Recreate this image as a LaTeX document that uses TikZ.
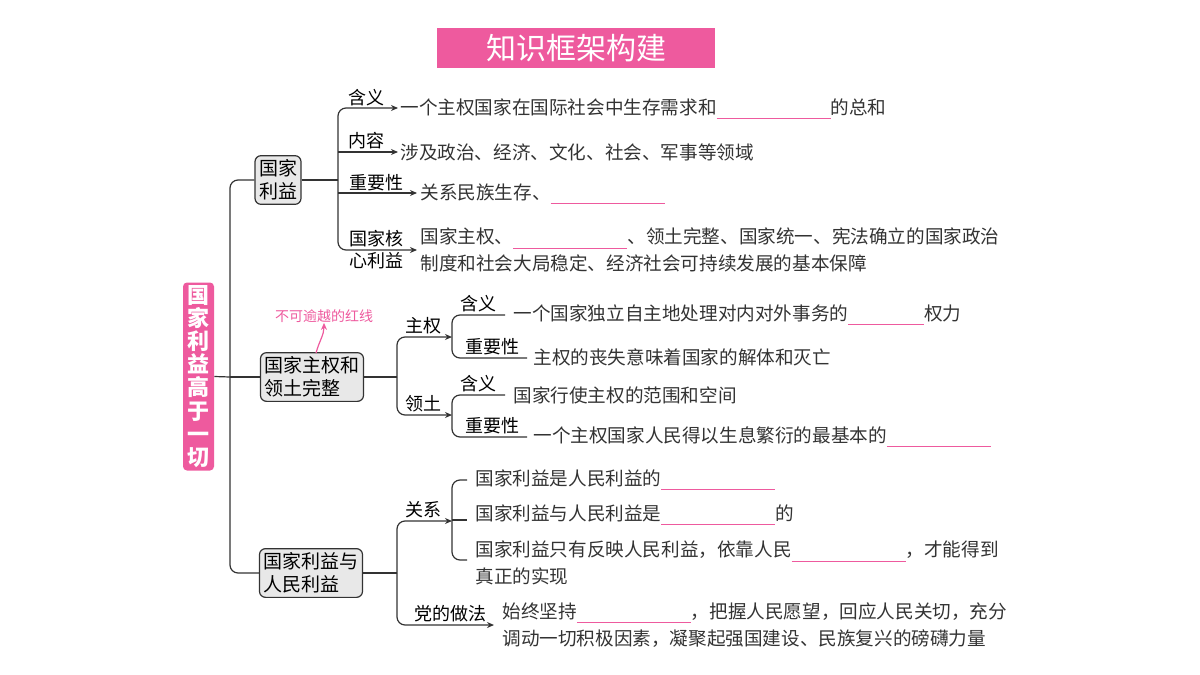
\documentclass[tikz,border=0pt]{standalone}
\usepackage{fontspec}
\setmainfont{Noto Sans CJK SC}
\usetikzlibrary{arrows.meta}
\definecolor{pk}{HTML}{EE5A9E}
\definecolor{tx}{HTML}{333333}
\newcommand{\blk}[1]{\textcolor{pk}{\rule[-2.5pt]{#1pt}{0.5pt}}}
\tikzset{
 t/.style={anchor=west,inner sep=0pt,font=\fontsize{9.3pt}{13.5pt}\selectfont,text=tx},
 lb/.style={anchor=base,inner sep=0pt,font=\fontsize{9pt}{10pt}\selectfont},
 gbox/.style={draw=tx,fill=gray!18,rounded corners=3pt,line width=0.6pt,inner sep=2pt,align=left,font=\fontsize{9.5pt}{11.5pt}\selectfont},
 ln/.style={draw=tx,line width=0.6pt,rounded corners=4pt},
 ar/.style={ln,-{Stealth[length=3.5pt,width=3pt]}}
}
\begin{document}
\begin{tikzpicture}[x=0.5pt,y=-0.5pt]
\useasboundingbox (0,0) rectangle (1200,675);
% title
\node[fill=pk,minimum width=139pt,minimum height=20pt,inner sep=0pt,text=white,font=\fontsize{15pt}{15pt}\selectfont] (title) at (576,48) {知识框架构建};
% root
\node[fill=pk,rounded corners=2pt,minimum width=15.5pt,minimum height=94pt,inner sep=0pt,text=white,align=center,font=\fontsize{11pt}{11.6pt}\selectfont\bfseries] (root) at (198.5,376.5) {国\\家\\利\\益\\高\\于\\一\\切};
% level-1 boxes
\node[gbox] (b1) at (278,180) {国家\\利益};
\node[gbox] (b2) at (312,377) {国家主权和\\领土完整};
\node[gbox] (b3) at (311,573) {国家利益与\\人民利益};
\coordinate (tr) at (230,377);
\draw[ln] (root.east) -- (tr);
\draw[ln] (b1.west) -- (230,180) -- (230,573) -- (b3.west);
\draw[ln] (tr) -- (b2.west);
% ---- branch 1
\coordinate (j1) at (338,180);
\draw[ln] (b1.east) -- (j1);
\draw[ar] (j1) |- (398,108);
\draw[ar] (338,152) -- (398,152);
\draw[ar] (338,193) -- (417,193);
\draw[ar] (j1) |- (417,250);
\node[lb] (l11) at (366,104) {含义};
\node[lb] (l12) at (366,147) {内容};
\node[lb] (l13) at (376,189) {重要性};
\node[lb,anchor=center,align=center,font=\fontsize{9pt}{11pt}\selectfont] (l14) at (376,250) {国家核\\心利益};
\node[t] (t11) at (400,109) {一个主权国家在国际社会中生存需求和\blk{57}的总和};
\node[t] (t12) at (400,152) {涉及政治、经济、文化、社会、军事等领域};
\node[t] (t13) at (420,194) {关系民族生存、\blk{57}};
\node[t,align=left] (t14) at (420,250) {国家主权、\blk{57}、领土完整、国家统一、宪法确立的国家政治\\制度和社会大局稳定、经济社会可持续发展的基本保障};
% ---- branch 2
\node[inner sep=0pt,text=pk,font=\fontsize{7pt}{7pt}\selectfont] (note) at (324,316) {不可逾越的红线};
\draw[pk,line width=0.6pt,-{Stealth[length=3.5pt,width=3pt]}] (316,353) to[out=75,in=-90] (note.south);
\coordinate (j2) at (397,377);
\draw[ln] (b2.east) -- (j2);
\draw[ar] (j2) |- (452,337);
\draw[ar] (j2) |- (452,415);
\node[lb] (l21) at (423,332) {主权};
\node[lb] (l22) at (423,410) {领土};
\draw[ln] (505,315) -| (452,337) |- (527,358);
\draw[ln] (505,395) -| (452,415) |- (527,437);
\node[lb] (l211) at (478,310) {含义};
\node[lb] (l212) at (492,353) {重要性};
\node[lb] (l221) at (478,390) {含义};
\node[lb] (l222) at (492,432) {重要性};
\node[t] (t211) at (513,315) {一个国家独立自主地处理对内对外事务的\blk{38}权力};
\node[t] (t212) at (533,357) {主权的丧失意味着国家的解体和灭亡};
\node[t] (t221) at (513,395) {国家行使主权的范围和空间};
\node[t] (t222) at (533,437) {一个主权国家人民得以生息繁衍的最基本的\blk{52}};
% ---- branch 3
\coordinate (j3) at (397,573);
\draw[ln] (b3.east) -- (j3);
\draw[ar] (j3) |- (452,521);
\draw[ar] (j3) |- (494,625);
\node[lb] (l31) at (423,516) {关系};
\node[lb] (l32) at (450,620) {党的做法};
\draw[ln] (467,480) -| (452,521) |- (467,560);
\draw[ln] (452,520) -- (467,520);
\node[t] (t31) at (475,480) {国家利益是人民利益的\blk{57}};
\node[t] (t32) at (475,515) {国家利益与人民利益是\blk{57}的};
\node[t,align=left] (t33) at (475,563) {国家利益只有反映人民利益，依靠人民\blk{57}，才能得到\\真正的实现};
\node[t,align=left] (t34) at (502,625) {始终坚持\blk{57}，把握人民愿望，回应人民关切，充分\\调动一切积极因素，凝聚起强国建设、民族复兴的磅礴力量};
\end{tikzpicture}
\end{document}
